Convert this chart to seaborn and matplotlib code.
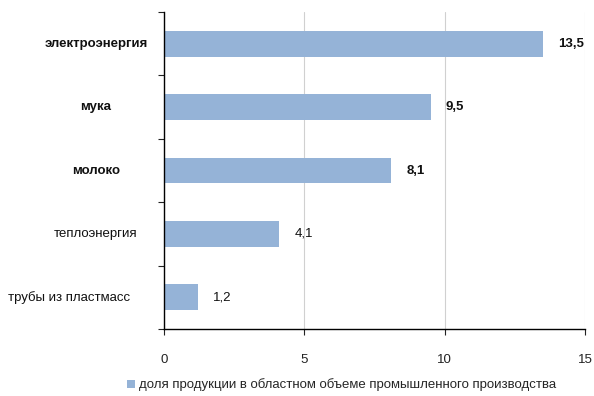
import matplotlib
matplotlib.use("Agg")
import matplotlib.pyplot as plt
import seaborn as sns
import pandas as pd
from matplotlib.patches import Patch
from matplotlib.ticker import FixedLocator
import matplotlib.transforms as mtransforms

categories = ["электроэнергия", "мука", "молоко", "теплоэнергия", "трубы из пластмасс"]
values = [13.5, 9.5, 8.1, 4.1, 1.2]
value_labels = ["13,5", "9,5", "8,1", "4,1", "1,2"]
bold_flags = [True, True, True, False, False]
x_ticks = [0, 5, 10, 15]
legend_label = "доля продукции в областном объеме промышленного производства"

sns.set_theme(style="white")
plt.rcParams["font.family"] = ["Liberation Sans", "DejaVu Sans"]

df = pd.DataFrame({"cat": categories, "val": values})
bar_color = "#95B3D7"
fs = 9.5

fig = plt.figure(figsize=(5.94, 3.96), dpi=100)
ax = fig.add_axes([164/594, 1 - 329/396, (585 - 164)/594, (329 - 12)/396])

sns.barplot(data=df, x="val", y="cat", orient="h", color=bar_color,
            width=0.41, ax=ax, saturation=1, edgecolor="none")

ax.set_xlim(0, 15)
ax.set_ylim(len(categories) - 0.5, -0.5)
ax.set_xticks(x_ticks)
ax.set_xticklabels([str(t) for t in x_ticks], fontsize=fs, color="#222222")
ax.tick_params(axis="x", length=4, width=0.8, direction="out", pad=14, color="#222222", bottom=True)
ax.grid(axis="x", color="#D0D0D0", linewidth=0.8)
ax.set_axisbelow(True)
ax.set_xlabel("")
ax.set_ylabel("")

# y-axis: ticks at category boundaries, labels drawn as text
ax.set_yticks([])
ax.yaxis.set_minor_locator(FixedLocator([i - 0.5 for i in range(len(categories) + 1)]))
ax.tick_params(axis="y", which="minor", length=4, width=0.8, direction="out", left=True, color="#222222")

for s in ["top", "right"]:
    ax.spines[s].set_visible(False)
for s in ["left", "bottom"]:
    ax.spines[s].set_color("black")
    ax.spines[s].set_linewidth(1.0)

trans = mtransforms.blended_transform_factory(ax.transAxes, ax.transData)
label_x = [-0.1615, -0.1615, -0.1615, -0.1615, -0.2257]
for i, (c, b) in enumerate(zip(categories, bold_flags)):
    ax.text(label_x[i], i, c, transform=trans, ha="center", va="center",
            fontsize=fs, fontweight="bold" if b else "normal", color="#111111")

for i, (v, lab, b) in enumerate(zip(values, value_labels, bold_flags)):
    ax.annotate(lab, xy=(v, i), xytext=(11, 0), textcoords="offset points",
                ha="left", va="center", fontsize=fs,
                fontweight="bold" if b else "normal", color="#111111")

handle = Patch(facecolor=bar_color, edgecolor="none")
fig.legend([handle], [legend_label], loc="center", bbox_to_anchor=(0.575, 0.028),
           frameon=False, fontsize=fs, handlelength=0.6, handleheight=0.6,
           handletextpad=0.3, borderaxespad=0)

fig.savefig("out.png", dpi=100)
